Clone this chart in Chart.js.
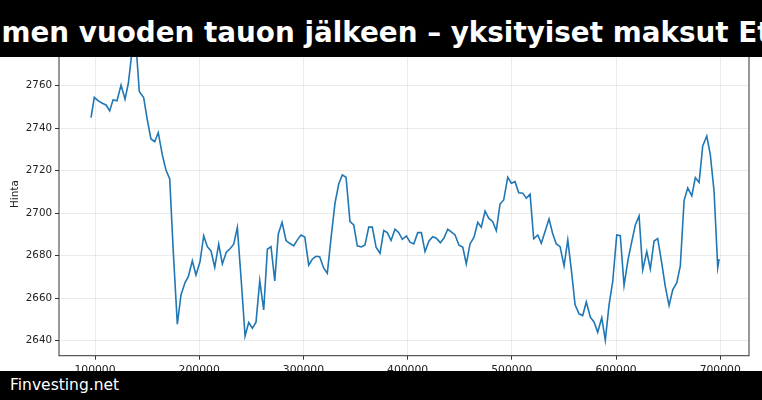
<!DOCTYPE html>
<html>
<head>
<meta charset="utf-8">
<script src="https://cdn.jsdelivr.net/npm/chart.js@4.4.0/dist/chart.umd.min.js"></script>
<style>
    html, body { margin: 0; padding: 0; background: #fff; }
    #wrap { position: relative; width: 762px; height: 400px; overflow: hidden; }
    #chart { position: absolute; left: 0; top: 0; }
    #topBar {
        position: absolute; left: 0; top: 0; width: 762px; height: 57px;
        background: #000; overflow: hidden;
    }
    #title {
        position: absolute; left: 1.5px; top: 19px;
        font: bold 27.8px/27.8px 'DejaVu Sans', sans-serif;
        color: #fff; white-space: nowrap;
    }
    #bottomBar {
        position: absolute; left: 0; top: 371px; width: 762px; height: 29px;
        background: #000; overflow: hidden;
    }
    #brand {
        position: absolute; left: 10px; top: 7px;
        font: 15.5px/15.5px 'DejaVu Sans', sans-serif;
        color: #fff; white-space: nowrap;
    }
</style>
</head>
<body>
<div id="wrap">
    <canvas id="chart" width="762" height="400"></canvas>
    <div id="topBar"><div id="title">men vuoden tauon jälkeen – yksityiset maksut Et</div></div>
    <div id="bottomBar"><div id="brand">Finvesting.net</div></div>
</div>
<script>
// Data
const xValues = [96200, 99300, 103200, 107000, 110600, 114100, 117300, 121100, 125000, 128800,
    132000, 135500, 139100, 142500, 146700, 150200, 153700, 157300, 160700, 164600,
    168100, 171700, 175100, 179000, 182500, 186400, 189500, 193400, 196900, 200800,
    204300, 207800, 211300, 214900, 218700, 222200, 226000, 229600, 233100, 236600,
    240400, 244000, 247500, 251000, 254500, 258100, 261900, 265400, 268900, 272500,
    275900, 279500, 283300, 286900, 290700, 294200, 297700, 301300, 305100, 308500,
    312100, 315600, 319500, 322900, 326500, 330300, 333900, 337300, 340900, 344700,
    348300, 351700, 355600, 359100, 362700, 366100, 369700, 373500, 377100, 380500,
    384100, 387900, 391500, 394900, 398800, 402300, 405900, 409700, 413200, 416700,
    420500, 424100, 427500, 431400, 434900, 438500, 441900, 445500, 449300, 452900,
    456300, 459900, 463700, 467300, 470700, 474300, 477800, 481700, 485100, 488700,
    492200, 496100, 499500, 503100, 506600, 510500, 513900, 517500, 521000, 524900,
    528300, 531900, 535700, 539300, 542700, 546300, 550100, 553700, 557100, 560700,
    564500, 568000, 571500, 575300, 578900, 582400, 586300, 589700, 593300, 596800,
    600700, 604100, 607700, 611500, 615100, 618500, 622100, 625600, 629500, 632900,
    636500, 640000, 643900, 647300, 650900, 654400, 658300, 661700, 665300, 668800,
    672700, 676100, 679700, 683200, 687100, 690500, 694100, 697600, 698900];

const prices = [2744.9, 2754.5, 2752.8, 2751.7, 2750.9, 2748.1, 2753.3, 2752.9, 2760.3, 2753.6,
    2761.1, 2776, 2781, 2757.2, 2754.4, 2743.9, 2734.9, 2733.6, 2737.9, 2727.4,
    2720.3, 2716.1, 2682, 2647.7, 2661.5, 2667.3, 2670.1, 2677.6, 2670.9, 2677.2,
    2689.4, 2684.2, 2682.2, 2674.5, 2685.4, 2676.1, 2681.6, 2683.2, 2685.4, 2693.2,
    2667.8, 2642.2, 2648.5, 2645.8, 2648.7, 2668.2, 2654.4, 2683.0, 2684.2, 2668.1,
    2690.2, 2695.7, 2687.1, 2685.8, 2684.6, 2687.4, 2689.7, 2688.8, 2675.5, 2678.3,
    2679.7, 2679.5, 2674.1, 2671.7, 2688.2, 2704.7, 2713.7, 2718.0, 2716.9, 2696.0,
    2694.4, 2684.6, 2684.1, 2685.0, 2693.4, 2693.4, 2684.0, 2681.1, 2691.8, 2690.8,
    2687.1, 2692.4, 2690.8, 2687.7, 2689.3, 2686.3, 2685.5, 2690.8, 2690.8, 2681.9,
    2686.9, 2688.9, 2688.2, 2686.1, 2688.3, 2692.4, 2691.2, 2689.7, 2684.9, 2684.0,
    2676.1, 2685.5, 2688.7, 2695.7, 2693.4, 2701.0, 2697.6, 2696.0, 2691.8, 2704.3,
    2706.2, 2716.9, 2714.1, 2714.8, 2709.6, 2709.4, 2707.0, 2708.9, 2687.9, 2689.7,
    2685.8, 2691.3, 2697.3, 2690.2, 2685.5, 2684.2, 2675.2, 2687.4, 2673.3, 2656.8,
    2652.6, 2651.8, 2658.2, 2651.0, 2648.8, 2643.9, 2650.8, 2640.2, 2656.8, 2667.8,
    2689.7, 2689.4, 2665.9, 2678.0, 2686.6, 2694.4, 2698.7, 2673.3, 2681.9, 2673.7,
    2686.9, 2688.0, 2676.4, 2665.4, 2656.5, 2663.9, 2667.3, 2675.2, 2705.9, 2711.9,
    2708.1, 2716.7, 2714.4, 2731.6, 2736.3, 2727.4, 2710.1, 2674.4, 2678.3];

const xTicks = [100000, 200000, 300000, 400000, 500000, 600000, 700000];
const yTicks = [2640, 2660, 2680, 2700, 2720, 2740, 2760];

const LINE_COLOR = '#1f77b4';
const FONT = 'DejaVu Sans';

// box around the plot area, like matplotlib spines
const frame = {
    id: 'frame',
    afterDatasetsDraw(chart) {
        const { ctx, chartArea: a } = chart;
        ctx.save();
        ctx.strokeStyle = '#333';
        ctx.lineWidth = 1;
        ctx.strokeRect(a.left, a.top, a.right - a.left, a.bottom - a.top);
        ctx.restore();
    }
};

const gridOpts = {
    color: 'rgba(0,0,0,0.08)',
    lineWidth: 1,
    drawTicks: true,
    tickLength: 4,
    tickColor: '#333',
    tickWidth: 1
};

new Chart(document.getElementById('chart'), {
    type: 'line',
    data: {
        datasets: [{
            label: 'Hinta',
            data: xValues.map((x, i) => ({ x: x, y: prices[i] })),
            borderColor: LINE_COLOR,
            borderWidth: 1.6,
            pointRadius: 0,
            tension: 0,
            fill: false
        }]
    },
    options: {
        responsive: false,
        animation: false,
        layout: { padding: { top: 32.5, right: 13, left: 0, bottom: 0 } },
        plugins: {
            legend: { display: false },
            tooltip: { enabled: false }
        },
        scales: {
            x: {
                type: 'linear',
                min: 65450,
                max: 727600,
                grid: gridOpts,
                border: { display: false },
                ticks: {
                    padding: 4.5,
                    color: '#222',
                    font: { family: FONT, size: 10.8 },
                    maxRotation: 0,
                    includeBounds: false,
                    callback: v => String(v)
                },
                afterBuildTicks: s => { s.ticks = xTicks.map(v => ({ value: v })); },
                afterFit: s => { s.height = 44.3; }
            },
            y: {
                type: 'linear',
                min: 2632.9,
                max: 2785,
                grid: gridOpts,
                border: { display: false },
                title: {
                    display: true,
                    text: 'Hinta',
                    color: '#222',
                    font: { family: FONT, size: 10.5 },
                    padding: { top: 9, bottom: 0 }
                },
                ticks: {
                    padding: 3,
                    color: '#222',
                    font: { family: FONT, size: 10.3 },
                    includeBounds: false,
                    callback: v => String(v)
                },
                afterBuildTicks: s => { s.ticks = yTicks.map(v => ({ value: v })); },
                afterFit: s => { s.width = 59; }
            }
        }
    },
    plugins: [frame]
});
</script>
</body>
</html>
